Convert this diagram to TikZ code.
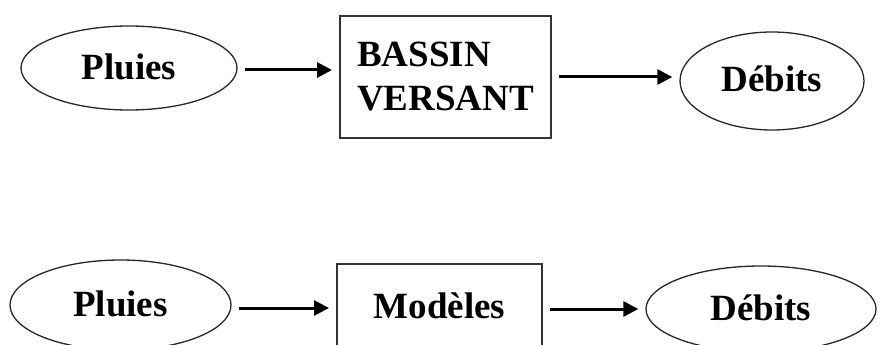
\documentclass[tikz,border=0pt]{standalone}
\usepackage{fontspec}
\setmainfont{Liberation Serif}
\usetikzlibrary{shapes.geometric,arrows.meta}

\begin{document}
\begin{tikzpicture}[x=1pt,y=-1pt,
            ovale/.style={draw=black!85,line width=1.3pt,ellipse,inner sep=0pt,
                text height=26pt,text depth=4pt,
                font=\fontsize{37}{44}\selectfont\bfseries},
            boite/.style={draw=black!80,line width=2pt,rectangle,inner sep=0pt,
                font=\fontsize{37}{44}\selectfont\bfseries},
            fleche/.style={line width=3pt,-{Triangle[length=15pt,width=15pt]},
                shorten <=7pt,shorten >=7pt}]
            \useasboundingbox (0,0) rectangle (881,345);
            \clip (0,0) rectangle (881,345);

            % en haut
            \node[ovale,minimum width=216pt,minimum height=84pt] (pluiesA) at (129,68) {Pluies};
            \node[boite,minimum width=211pt,minimum height=121pt,align=left] (bassin) at (445.5,77) {BASSIN\\VERSANT};
            \node[ovale,minimum width=184pt,minimum height=98pt] (debitsA) at (772,81) {Débits};

            \draw[fleche] (pluiesA.east |- 0,70) -- (bassin.west |- 0,70);
            \draw[fleche] (bassin.east) -- (bassin.east -| debitsA.west);

            % en bas
            \node[ovale,minimum width=221pt,minimum height=90pt] (pluiesB) at (120.5,305) {Pluies};
            \node[boite,minimum width=205pt,minimum height=84pt] (modeles) at (439.5,306) {Modèles};
            \node[ovale,minimum width=230pt,minimum height=86pt] (debitsB) at (761,309) {Débits};

            \draw[fleche] (pluiesB.east |- 0,308) -- (modeles.west |- 0,308);
            \draw[fleche] (modeles.east |- 0,309) -- (debitsB.west |- 0,309);
        \end{tikzpicture}
\end{document}
